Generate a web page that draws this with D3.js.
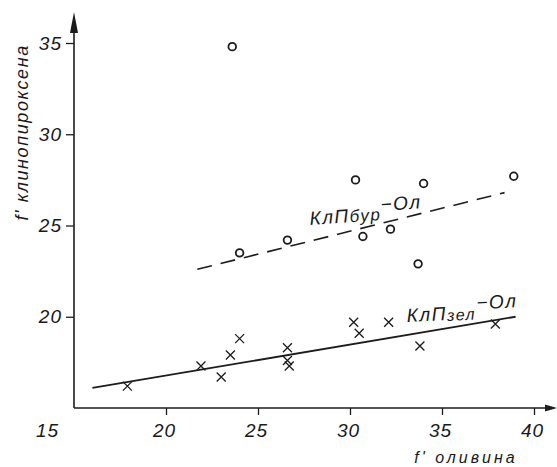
<!DOCTYPE html>
<html>
<head>
<meta charset="utf-8">
<script src="https://cdn.jsdelivr.net/npm/d3@7"></script>
<style>
  html, body { margin: 0; padding: 0; background: #fff; }
  svg { display: block; }
  text { font-family: "Liberation Sans", "DejaVu Sans", sans-serif; font-style: italic; fill: #1a1a1a; }
</style>
</head>
<body>
<svg id="chart" width="557" height="467"></svg>
<script>
// f' of olivine (x) vs f' of clinopyroxene (y)
// brown clinopyroxene – olivine pairs (open circles)
const burX = [23.6, 30.3, 24.0, 26.6, 30.7, 32.2, 34.0, 38.9, 33.7];
const burY = [34.8, 27.5, 23.5, 24.2, 24.4, 24.8, 27.3, 27.7, 22.9];
// green clinopyroxene – olivine pairs (crosses)
const zelX = [17.9, 21.9, 23.0, 23.5, 24.0, 26.6, 26.6, 26.7, 30.2, 30.5, 32.1, 33.8, 37.9];
const zelY = [16.2, 17.3, 16.7, 17.9, 18.8, 18.3, 17.6, 17.3, 19.7, 19.1, 19.7, 18.4, 19.6];
// trend lines: [x0, y0, x1, y1]
const burTrend = [21.7, 22.6, 38.4, 26.8];
const zelTrend = [16.0, 16.1, 39.0, 20.0];
// ticks
const xTicks = [15, 20, 25, 30, 35, 40];
const yTicks = [20, 25, 30, 35];
const xTitle = "f' оливина";
const yTitle = "f' клинопироксена";

const svg = d3.select("#chart");
const ink = "#1c1c1c";

const x = d3.scaleLinear().domain([15, 40]).range([74, 534]);
const y = d3.scaleLinear().domain([15, 35]).range([408, 43]);

// axes
const xAxis = svg.append("g").attr("transform", `translate(0,${y(15)})`)
  .call(d3.axisBottom(x).tickValues(xTicks).tickSize(7).tickPadding(9).tickFormat(d3.format("d")));
xAxis.select(".domain").remove();
xAxis.append("line").attr("x1", x(15)).attr("x2", 549).attr("stroke", ink).attr("stroke-width", 1.6);
xAxis.append("path").attr("d", "M557,0 L545,-3.5 L545,3.5 Z").attr("fill", ink);
xAxis.selectAll(".tick line").attr("stroke", ink).attr("stroke-width", 1.3);
xAxis.selectAll(".tick").filter(d => d === 15).select("line").remove();
xAxis.selectAll(".tick text").attr("font-size", 19).attr("fill", ink)
  .attr("font-family", "Liberation Sans, sans-serif").attr("font-style", "italic")
  .attr("letter-spacing", 1)
  .attr("dx", d => d === 15 ? -27 : -2);

const yAxis = svg.append("g").attr("transform", `translate(${x(15)},0)`)
  .call(d3.axisLeft(y).tickValues(yTicks).tickSize(8).tickPadding(4).tickFormat(d3.format("d")));
yAxis.select(".domain").remove();
yAxis.append("line").attr("y1", y(15)).attr("y2", 24).attr("stroke", ink).attr("stroke-width", 1.6);
yAxis.append("path").attr("d", "M0,12 L-4,33 L4,33 Z").attr("fill", ink);
yAxis.selectAll(".tick line").attr("stroke", ink).attr("stroke-width", 1.3);
yAxis.selectAll(".tick text").attr("font-size", 19).attr("fill", ink)
  .attr("font-family", "Liberation Sans, sans-serif").attr("font-style", "italic")
  .attr("letter-spacing", 1);

// axis titles
svg.append("text").attr("transform", `translate(28,${y(30.1)}) rotate(-90)`)
  .attr("text-anchor", "middle").attr("font-size", 18).attr("letter-spacing", 1.6).text(yTitle);
svg.append("text").attr("x", 466).attr("y", 463)
  .attr("text-anchor", "middle").attr("font-size", 16).attr("letter-spacing", 3).text(xTitle);

// trend lines
svg.append("line")
  .attr("x1", x(burTrend[0])).attr("y1", y(burTrend[1]))
  .attr("x2", x(burTrend[2])).attr("y2", y(burTrend[3]))
  .attr("stroke", ink).attr("stroke-width", 1.6).attr("stroke-dasharray", "15,9");
svg.append("line")
  .attr("x1", x(zelTrend[0])).attr("y1", y(zelTrend[1]))
  .attr("x2", x(zelTrend[2])).attr("y2", y(zelTrend[3]))
  .attr("stroke", ink).attr("stroke-width", 1.8);

// open circles
svg.append("g").selectAll("circle").data(d3.zip(burX, burY)).join("circle")
  .attr("cx", d => x(d[0])).attr("cy", d => y(d[1])).attr("r", 3.8)
  .attr("fill", "none").attr("stroke", ink).attr("stroke-width", 1.8);

// crosses
const s = 4.5;
svg.append("g").selectAll("path").data(d3.zip(zelX, zelY)).join("path")
  .attr("d", d => {
    const cx = x(d[0]), cy = y(d[1]);
    return `M${cx - s},${cy - s}L${cx + s},${cy + s}M${cx - s},${cy + s}L${cx + s},${cy - s}`;
  })
  .attr("fill", "none").attr("stroke", ink).attr("stroke-width", 1.3);

// series labels
const l1 = svg.append("text").attr("transform", "translate(310,225) rotate(-4)")
  .attr("font-size", 19).attr("letter-spacing", 1.5);
l1.append("tspan").text("КлП");
l1.append("tspan").attr("font-size", 17).text("бур");
l1.append("tspan").attr("dy", -9).attr("dx", 0).text("−Ол");

const l2 = svg.append("text").attr("transform", "translate(407,322) rotate(-3)")
  .attr("font-size", 19).attr("letter-spacing", 1.5);
l2.append("tspan").text("КлП");
l2.append("tspan").attr("font-size", 16).attr("dy", 1).text("зел");
l2.append("tspan").attr("dy", -10).attr("dx", 1).text("−Ол");
</script>
</body>
</html>
